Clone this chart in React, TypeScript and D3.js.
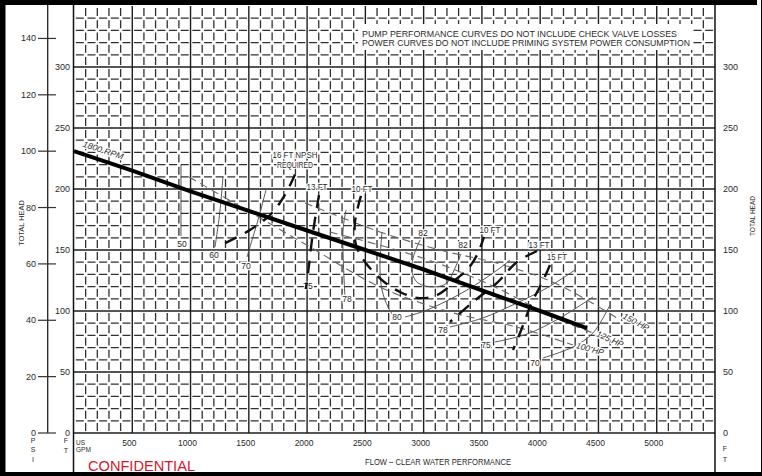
import * as d3 from "d3";

type Pt = [number, number];

// flow in US GPM, head in feet
const headFlow = [0, 500, 1000, 1500, 2000, 2500, 3000, 3500, 4000, 4400];
const headFt = [231, 215, 198, 182, 166, 150, 134, 117, 100, 86];

const ftTicks = [0, 50, 100, 150, 200, 250, 300];
const psiTicks = [0, 20, 40, 60, 80, 100, 120, 140];
const flowTicks = [500, 1000, 1500, 2000, 2500, 3000, 3500, 4000, 4500, 5000];

// efficiency contours (gpm, ft)
const eff50: Pt[] = [[918, 219.7], [918, 161.5]];
const eff60: Pt[] = [[1278, 209.8], [1250, 180], [1210, 152.5]];
const eff70: Pt[] = [[1647, 199], [1580, 175], [1484, 144.3]];
const eff75a: Pt[] = [[1999, 186.9], [1999, 131.1]];
const eff78a: Pt[] = [[2334, 182.8], [2308, 166], [2325, 111.5]];
const eff80a: Pt[] = [[2643, 164.8], [2625, 136.1], [2643, 117.2], [2694, 103.3], [2737, 96.7]];
const eff80b: Pt[] = [[2840, 95.1], [3029, 100.8], [3372, 117.2], [3655, 135.2], [3741, 141.8]];
const eff82: Pt[] = [[2969, 158.2], [2909, 143.4], [2900, 131.9], [2951, 123], [3097, 119.7], [3200, 123], [3269, 135.2], [3320, 146.7]];
const eff78b: Pt[] = [[3226, 86.9], [3509, 94.3], [3801, 106.6], [4058, 118.9], [4298, 133.6]];
const eff75b: Pt[] = [[3612, 74.6], [3887, 81.1], [4170, 94.3], [4453, 111.5]];
const eff70b: Pt[] = [[4024, 61.5], [4281, 70.5], [4453, 82], [4599, 104.9]];
const effLines = [eff50, eff60, eff70, eff75a, eff78a, eff80a, eff80b, eff82, eff78b, eff75b, eff70b];
const effLabels: [number, number, string][] = [
  [927, 155, "50"], [1201, 146, "60"], [1476, 137, "70"], [2008, 120.5, "75"],
  [2342, 110, "78"], [2771, 95, "80"], [2995, 164, "82"], [3338, 154, "82"],
  [3166, 84.4, "78"], [3535, 72, "75"], [3955, 57.4, "70"],
];

// NPSH required contours
const npsh16: Pt[] = [[1296, 155.7], [1510, 166.4], [1682, 178.7], [1810, 195.1], [1913, 215.6]];
const npsh13a: Pt[] = [[2102, 195], [2051, 164.8], [2008, 131.1], [1990, 118]];
const npsh10: Pt[] = [[2462, 194.3], [2411, 173], [2420, 154.1], [2497, 140.2], [2651, 124.6], [2797, 115.6], [2951, 110.7], [3097, 112.3], [3183, 117.2], [3269, 125.4], [3372, 133.6], [3458, 145.9], [3518, 160.7]];
const npsh13b: Pt[] = [[3973, 149.2], [3801, 140.2], [3629, 123], [3423, 107.4], [3226, 91]];
const npsh15: Pt[] = [[4084, 137.7], [4015, 123], [3930, 107.4], [3844, 86.1], [3767, 68]];
const npshLines = [npsh16, npsh13a, npsh10, npsh13b, npsh15];
const npshLabels: [number, number, string, number][] = [
  [1896, 228, "16  FT  NPSH", 45], [1896, 219.7, "REQUIRED", 36],
  [2085, 201.6, "13  FT", 21], [2471, 200, "10  FT", 21],
  [3569, 166.4, "10  FT", 21], [3990, 154, "13  FT", 21], [4144, 144.3, "15  FT", 20],
];

// power curves
const hp150: Pt[] = [[1982, 188.5], [2625, 164.8], [3140, 150], [3655, 138.5], [4144, 122.1], [4659, 94.3]];
const hp125: Pt[] = [[2196, 164.8], [2711, 151.6], [3140, 138.5], [3629, 118.9], [4110, 95.1], [4479, 81.1]];
const hp100: Pt[] = [[987, 209.8], [1510, 181.1], [2025, 152.5], [2625, 119.7], [3226, 99.2], [3827, 86.1], [4281, 72.1]];
const hpLines = [hp150, hp125, hp100];
const hpLabels: [number, number, string, number][] = [
  [4822, 91, "150  HP", 28], [4599, 77, "125  HP", 24], [4427, 68.9, "100  HP", 15.5],
];

const font = "'Liberation Sans', Arial, sans-serif";
const ink = "#2a2a2a";

export default function App() {
  const x = d3.scaleLinear().domain([0, 5500]).range([74, 715]);
  const y = d3.scaleLinear().domain([0, 350]).range([433, 6]);
  const yPsi = (p: number) => y(p * 2.31);

  const smooth = d3.line<Pt>().x((d) => x(d[0])).y((d) => y(d[1])).curve(d3.curveCatmullRom.alpha(0.5));
  const head = d3.line<number>().x((d) => x(d)).y((_, i) => y(headFt[i]));

  const majorX = d3.range(500, 5500, 500);
  const minorX = d3.range(100, 5500, 100).filter((v) => v % 500 !== 0);
  const majorY = d3.range(50, 350, 50);
  const minorY = d3.range(10, 350, 10).filter((v) => v % 50 !== 0);
  const dx = x(100) - x(0);
  const dy = y(0) - y(10);
  const dash = 8;
  // gaps sit on the crossings, dashes fill the middle of each cell
  const gapX = dx - dash;
  const gapY = dy - dash;

  return (
    <svg width={762} height={476} style={{ position: "absolute", left: 0, top: 0, background: "#fff" }} fontFamily={font}>
      {/* grid */}
      <g stroke="#303030" strokeWidth={1.3} strokeDasharray={`${dash} ${gapY}`} strokeDashoffset={dash + gapY / 2}>
        {minorX.map((v) => (
          <line key={v} x1={x(v)} x2={x(v)} y1={y(0)} y2={y(350)} />
        ))}
      </g>
      <g stroke="#303030" strokeWidth={1.3} strokeDasharray={`${dash} ${gapX}`} strokeDashoffset={dash + gapX / 2}>
        {minorY.map((v) => (
          <line key={v} x1={x(0)} x2={x(5500)} y1={y(v)} y2={y(v)} />
        ))}
      </g>
      <g stroke="#1e1e1e" strokeWidth={1.4}>
        {majorX.map((v) => (
          <line key={v} x1={x(v)} x2={x(v)} y1={y(0)} y2={y(350)} />
        ))}
        {majorY.map((v) => (
          <line key={v} x1={x(0)} x2={x(5500)} y1={y(v)} y2={y(v)} />
        ))}
        <line x1={x(0)} x2={x(5500)} y1={y(0)} y2={y(0)} />
      </g>

      {/* note box */}
      <rect x={358} y={24} width={335} height={26} fill="#fff" />
      <g fontSize={8.5} fill={ink} dominantBaseline="central">
        <text x={362} y={34} textLength={315} lengthAdjust="spacingAndGlyphs">
          PUMP  PERFORMANCE  CURVES  DO  NOT  INCLUDE  CHECK  VALVE  LOSSES
        </text>
        <text x={362} y={42.5} textLength={328} lengthAdjust="spacingAndGlyphs">
          POWER  CURVES  DO  NOT  INCLUDE  PRIMING  SYSTEM  POWER  CONSUMPTION
        </text>
      </g>

      {/* efficiency */}
      <g fill="none" stroke="#555" strokeWidth={1}>
        {effLines.map((c, i) => (
          <path key={i} d={smooth(c) || ""} />
        ))}
      </g>
      <g fontSize={8.5} fill={ink} textAnchor="middle" dominantBaseline="central">
        {effLabels.map(([q, h, t], i) => (
          <text key={i} x={x(q)} y={y(h)} stroke="#fff" strokeWidth={2.5} paintOrder="stroke">{t}</text>
        ))}
      </g>

      {/* power */}
      <g fill="none" stroke="#666" strokeWidth={1.1} strokeDasharray="8 5">
        {hpLines.map((c, i) => (
          <path key={i} d={smooth(c) || ""} />
        ))}
      </g>
      <g fontSize={8.5} fill={ink} textAnchor="middle" dominantBaseline="central" fontStyle="italic">
        {hpLabels.map(([q, h, t, a], i) => (
          <text key={i} transform={`translate(${x(q)},${y(h)}) rotate(${a})`} stroke="#fff" strokeWidth={2.5} paintOrder="stroke">{t}</text>
        ))}
      </g>

      {/* NPSH */}
      <g fill="none" stroke="#111" strokeWidth={2.4} strokeDasharray="13 9">
        {npshLines.map((c, i) => (
          <path key={i} d={smooth(c) || ""} />
        ))}
      </g>
      <g fontSize={8.5} fill={ink} textAnchor="middle" dominantBaseline="central">
        {npshLabels.map(([q, h, t, w], i) => (
          <text key={i} x={x(q)} y={y(h)} textLength={w} lengthAdjust="spacingAndGlyphs" stroke="#fff" strokeWidth={2.5} paintOrder="stroke">{t}</text>
        ))}
      </g>

      {/* head curve */}
      <path d={head(headFlow) || ""} fill="none" stroke="#000" strokeWidth={4} />
      <text
        transform={`translate(${x(250)},${y(231) - 1}) rotate(18)`}
        fontSize={8.5}
        fontStyle="italic"
        fill={ink}
        textAnchor="middle"
        dominantBaseline="central"
        textLength={42}
        lengthAdjust="spacingAndGlyphs"
        stroke="#fff"
        strokeWidth={2.5}
        paintOrder="stroke"
      >
        1800  RPM
      </text>

      {/* left axes */}
      <line x1={47.7} x2={47.7} y1={5} y2={yPsi(0)} stroke="#222" strokeWidth={1.3} />
      <g stroke="#333" strokeWidth={1.2}>
        {psiTicks.map((p) => (
          <line key={p} x1={38} x2={56} y1={yPsi(p)} y2={yPsi(p)} />
        ))}
      </g>
      <g fontSize={9} fill={ink} textAnchor="end" dominantBaseline="central">
        {psiTicks.map((p) => (
          <text key={p} x={36} y={yPsi(p)}>{p}</text>
        ))}
        {ftTicks.map((f) => (
          <text key={f} x={70} y={y(f)}>{f}</text>
        ))}
      </g>
      <g fontSize={9} fill={ink} textAnchor="start" dominantBaseline="central">
        {ftTicks.map((f) => (
          <text key={f} x={723} y={y(f)}>{f}</text>
        ))}
      </g>
      <text transform="translate(21,223) rotate(-90)" fontSize={8} fill={ink} textAnchor="middle" dominantBaseline="central" textLength={46} lengthAdjust="spacingAndGlyphs">
        TOTAL  HEAD
      </text>
      <text transform="translate(752,216) rotate(-90)" fontSize={8} fill={ink} textAnchor="middle" dominantBaseline="central" textLength={40} lengthAdjust="spacingAndGlyphs">
        TOTAL  HEAD
      </text>

      {/* bottom labels */}
      <g fontSize={8.5} fill={ink} textAnchor="middle" dominantBaseline="central">
        {flowTicks.map((q) => (
          <text key={q} x={x(q) - 3} y={443}>{q}</text>
        ))}
        <text x={438} y={462} textLength={146} lengthAdjust="spacingAndGlyphs">
          FLOW  –  CLEAR  WATER  PERFORMANCE
        </text>
      </g>
      <g fontSize={7} fill={ink} textAnchor="middle" dominantBaseline="central">
        <text x={33} y={440}>P</text>
        <text x={33} y={449.5}>S</text>
        <text x={33} y={459}>I</text>
        <text x={66} y={440}>F</text>
        <text x={66} y={450.5}>T</text>
        <text x={725} y={448}>F</text>
        <text x={725} y={459.5}>T</text>
      </g>
      <g fontSize={6.5} fill={ink} dominantBaseline="central">
        <text x={76} y={442}>US</text>
        <text x={76} y={449}>GPM</text>
      </g>
      <text x={88} y={471} fontSize={15} fill="#d7142b" textLength={107} lengthAdjust="spacingAndGlyphs">
        CONFIDENTIAL
      </text>

      {/* frame */}
      <line x1={x(0) - 0.5} x2={x(0) - 0.5} y1={5} y2={472} stroke="#111" strokeWidth={1.5} />
      <line x1={x(5500)} x2={x(5500)} y1={5} y2={472} stroke="#111" strokeWidth={1.5} />
      <rect x={0} y={0} width={757} height={5} fill="#000" />
      <rect x={0} y={0} width={5.5} height={476} fill="#000" />
      <rect x={0} y={472} width={762} height={4} fill="#000" />
      <line x1={761.5} x2={761.5} y1={0} y2={476} stroke="#000" strokeWidth={1} />
    </svg>
  );
}
